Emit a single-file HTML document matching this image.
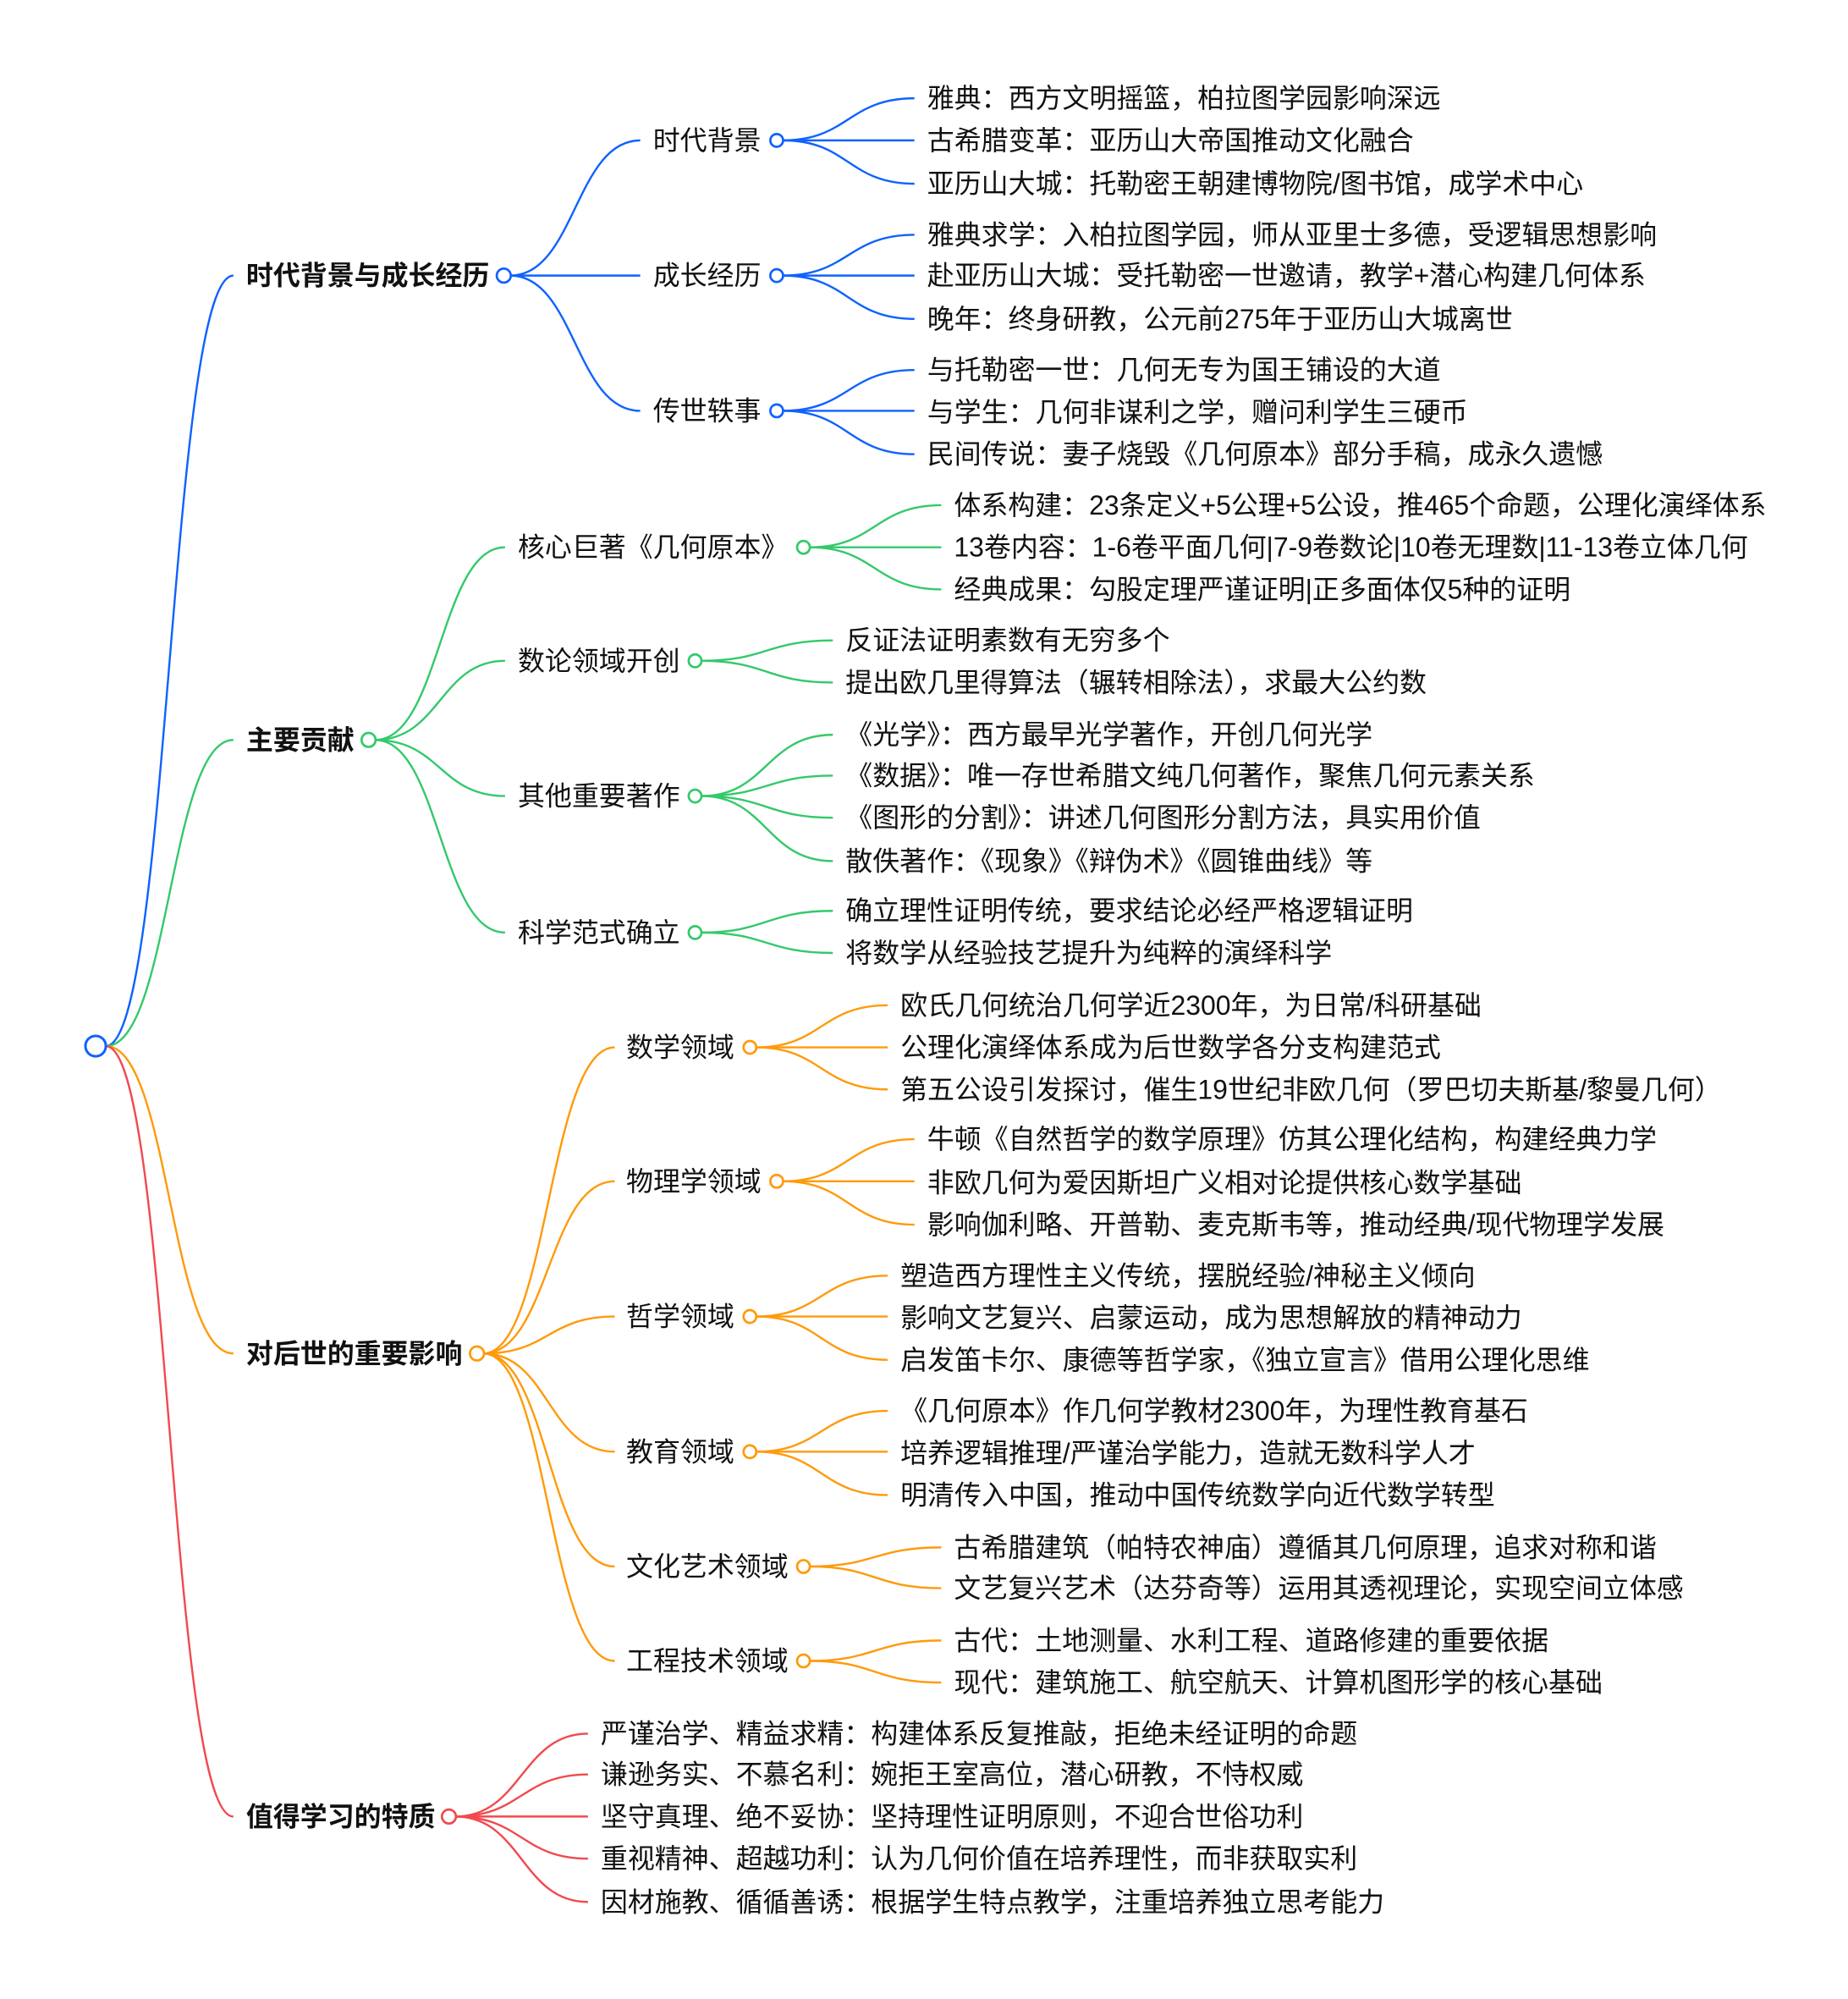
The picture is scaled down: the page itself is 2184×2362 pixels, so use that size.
<!DOCTYPE html>
<html><head><meta charset="utf-8"><style>
html,body{margin:0;padding:0;background:#fff;}
svg{display:block;}
text{font-family:"Liberation Sans","Noto Sans CJK SC",sans-serif;font-size:21.2px;fill:#111;dominant-baseline:central;}
.b{font-weight:bold;}
path{fill:none;stroke-width:1.6;}
.bl path{stroke:#0f62fe;} .gr path{stroke:#34c96b;} .or path{stroke:#ff9a0a;} .rd path{stroke:#f04a4f;}
circle{fill:#fff;stroke-width:1.8;}
.bl circle{stroke:#0f62fe;} .gr circle{stroke:#34c96b;} .or circle{stroke:#ff9a0a;} .rd circle{stroke:#f04a4f;}
</style></head><body>
<svg width="2184" height="2362" viewBox="0 0 1449 1567" xmlns="http://www.w3.org/2000/svg">
<g class="bl">
<path d="M83 820C133 820 133 216 183 216"/>
<path d="M400 216C451 216 451 110 502 110"/>
<path d="M400 216L502 216"/>
<path d="M400 216C451 216 451 322 502 322"/>
<path d="M614 110C665 110 665 77 717 77"/><path d="M614 110L717 110"/><path d="M614 110C665 110 665 144 717 144"/>
<path d="M614 216C665 216 665 184 717 184"/><path d="M614 216L717 216"/><path d="M614 216C665 216 665 250 717 250"/>
<path d="M614 322C665 322 665 290 717 290"/><path d="M614 322L717 322"/><path d="M614 322C665 322 665 356 717 356"/>
<circle cx="395" cy="216" r="5.5"/><circle cx="609" cy="110" r="5"/><circle cx="609" cy="216" r="5"/><circle cx="609" cy="322" r="5"/>
</g>
<g class="gr">
<path d="M83 820C133 820 133 580 183 580"/>
<path d="M294 580C345 580 345 429 396 429"/>
<path d="M294 580C345 580 345 518 396 518"/>
<path d="M294 580C345 580 345 624 396 624"/>
<path d="M294 580C345 580 345 731 396 731"/>
<path d="M635 429C686 429 686 396 738 396"/><path d="M635 429L738 429"/><path d="M635 429C686 429 686 462 738 462"/>
<path d="M550 518C601 518 601 502 653 502"/><path d="M550 518C601 518 601 535 653 535"/>
<path d="M550 624C601 624 601 576 653 576"/><path d="M550 624C601 624 601 608 653 608"/><path d="M550 624C601 624 601 641 653 641"/><path d="M550 624C601 624 601 675 653 675"/>
<path d="M550 731C601 731 601 714 653 714"/><path d="M550 731C601 731 601 747 653 747"/>
<circle cx="289" cy="580" r="5.5"/><circle cx="630" cy="429" r="5"/><circle cx="545" cy="518" r="5"/><circle cx="545" cy="624" r="5"/><circle cx="545" cy="731" r="5"/>
</g>
<g class="or">
<path d="M83 820C133 820 133 1061 183 1061"/>
<path d="M379 1061C430 1061 430 821 482 821"/>
<path d="M379 1061C430 1061 430 926 482 926"/>
<path d="M379 1061C430 1061 430 1032 482 1032"/>
<path d="M379 1061C430 1061 430 1138 482 1138"/>
<path d="M379 1061C430 1061 430 1228 482 1228"/>
<path d="M379 1061C430 1061 430 1302 482 1302"/>
<path d="M593 821C644 821 644 788 696 788"/><path d="M593 821L696 821"/><path d="M593 821C644 821 644 854 696 854"/>
<path d="M614 926C665 926 665 893 717 893"/><path d="M614 926L717 926"/><path d="M614 926C665 926 665 960 717 960"/>
<path d="M593 1032C644 1032 644 1000 696 1000"/><path d="M593 1032L696 1032"/><path d="M593 1032C644 1032 644 1066 696 1066"/>
<path d="M593 1138C644 1138 644 1106 696 1106"/><path d="M593 1138L696 1138"/><path d="M593 1138C644 1138 644 1172 696 1172"/>
<path d="M635 1228C686 1228 686 1213 738 1213"/><path d="M635 1228C686 1228 686 1245 738 1245"/>
<path d="M635 1302C686 1302 686 1286 738 1286"/><path d="M635 1302C686 1302 686 1319 738 1319"/>
<circle cx="374" cy="1061" r="5.5"/><circle cx="588" cy="821" r="5"/><circle cx="609" cy="926" r="5"/><circle cx="588" cy="1032" r="5"/><circle cx="588" cy="1138" r="5"/><circle cx="630" cy="1228" r="5"/><circle cx="630" cy="1302" r="5"/>
</g>
<g class="rd">
<path d="M83 820C133 820 133 1424 183 1424"/>
<path d="M357 1424C409 1424 409 1359 461 1359"/>
<path d="M357 1424C409 1424 409 1391 461 1391"/>
<path d="M357 1424L461 1424"/>
<path d="M357 1424C409 1424 409 1457 461 1457"/>
<path d="M357 1424C409 1424 409 1491 461 1491"/>
<circle cx="352" cy="1424" r="5.5"/>
</g>
<circle cx="75" cy="820" r="8" style="fill:#fff;stroke:#0f62fe;stroke-width:2"/>

<text class="b" x="193" y="216">时代背景与成长经历</text>
<text class="b" x="193" y="580">主要贡献</text>
<text class="b" x="193" y="1061">对后世的重要影响</text>
<text class="b" x="193" y="1424">值得学习的特质</text>

<text x="512" y="110">时代背景</text>
<text x="512" y="216">成长经历</text>
<text x="512" y="322">传世轶事</text>
<text x="406" y="429">核心巨著《几何原本》</text>
<text x="406" y="518">数论领域开创</text>
<text x="406" y="624">其他重要著作</text>
<text x="406" y="731">科学范式确立</text>
<text x="491" y="821">数学领域</text>
<text x="491" y="926">物理学领域</text>
<text x="491" y="1032">哲学领域</text>
<text x="491" y="1138">教育领域</text>
<text x="491" y="1228">文化艺术领域</text>
<text x="491" y="1302">工程技术领域</text>

<text x="727" y="77">雅典：西方文明摇篮，柏拉图学园影响深远</text>
<text x="727" y="110">古希腊变革：亚历山大帝国推动文化融合</text>
<text x="727" y="144">亚历山大城：托勒密王朝建博物院/图书馆，成学术中心</text>
<text x="727" y="184">雅典求学：入柏拉图学园，师从亚里士多德，受逻辑思想影响</text>
<text x="727" y="216">赴亚历山大城：受托勒密一世邀请，教学+潜心构建几何体系</text>
<text x="727" y="250">晚年：终身研教，公元前275年于亚历山大城离世</text>
<text x="727" y="290">与托勒密一世：几何无专为国王铺设的大道</text>
<text x="727" y="323">与学生：几何非谋利之学，赠问利学生三硬币</text>
<text x="727" y="356">民间传说：妻子烧毁《几何原本》部分手稿，成永久遗憾</text>
<text x="748" y="396">体系构建：23条定义+5公理+5公设，推465个命题，公理化演绎体系</text>
<text x="748" y="429">13卷内容：1-6卷平面几何|7-9卷数论|10卷无理数|11-13卷立体几何</text>
<text x="748" y="462">经典成果：勾股定理严谨证明|正多面体仅5种的证明</text>
<text x="663" y="502">反证法证明素数有无穷多个</text>
<text x="663" y="535">提出欧几里得算法（辗转相除法），求最大公约数</text>
<text x="663" y="576">《光学》：西方最早光学著作，开创几何光学</text>
<text x="663" y="608">《数据》：唯一存世希腊文纯几何著作，聚焦几何元素关系</text>
<text x="663" y="641">《图形的分割》：讲述几何图形分割方法，具实用价值</text>
<text x="663" y="675">散佚著作：《现象》《辩伪术》《圆锥曲线》等</text>
<text x="663" y="714">确立理性证明传统，要求结论必经严格逻辑证明</text>
<text x="663" y="747">将数学从经验技艺提升为纯粹的演绎科学</text>
<text x="706" y="788">欧氏几何统治几何学近2300年，为日常/科研基础</text>
<text x="706" y="821">公理化演绎体系成为后世数学各分支构建范式</text>
<text x="706" y="854">第五公设引发探讨，催生19世纪非欧几何（罗巴切夫斯基/黎曼几何）</text>
<text x="727" y="893">牛顿《自然哲学的数学原理》仿其公理化结构，构建经典力学</text>
<text x="727" y="927">非欧几何为爱因斯坦广义相对论提供核心数学基础</text>
<text x="727" y="960">影响伽利略、开普勒、麦克斯韦等，推动经典/现代物理学发展</text>
<text x="706" y="1000">塑造西方理性主义传统，摆脱经验/神秘主义倾向</text>
<text x="706" y="1033">影响文艺复兴、启蒙运动，成为思想解放的精神动力</text>
<text x="706" y="1066">启发笛卡尔、康德等哲学家，《独立宣言》借用公理化思维</text>
<text x="706" y="1106">《几何原本》作几何学教材2300年，为理性教育基石</text>
<text x="706" y="1139">培养逻辑推理/严谨治学能力，造就无数科学人才</text>
<text x="706" y="1172">明清传入中国，推动中国传统数学向近代数学转型</text>
<text x="748" y="1213">古希腊建筑（帕特农神庙）遵循其几何原理，追求对称和谐</text>
<text x="748" y="1245">文艺复兴艺术（达芬奇等）运用其透视理论，实现空间立体感</text>
<text x="748" y="1286">古代：土地测量、水利工程、道路修建的重要依据</text>
<text x="748" y="1319">现代：建筑施工、航空航天、计算机图形学的核心基础</text>
<text x="471" y="1359">严谨治学、精益求精：构建体系反复推敲，拒绝未经证明的命题</text>
<text x="471" y="1391">谦逊务实、不慕名利：婉拒王室高位，潜心研教，不恃权威</text>
<text x="471" y="1424">坚守真理、绝不妥协：坚持理性证明原则，不迎合世俗功利</text>
<text x="471" y="1457">重视精神、超越功利：认为几何价值在培养理性，而非获取实利</text>
<text x="471" y="1491">因材施教、循循善诱：根据学生特点教学，注重培养独立思考能力</text>
</svg>
</body></html>
